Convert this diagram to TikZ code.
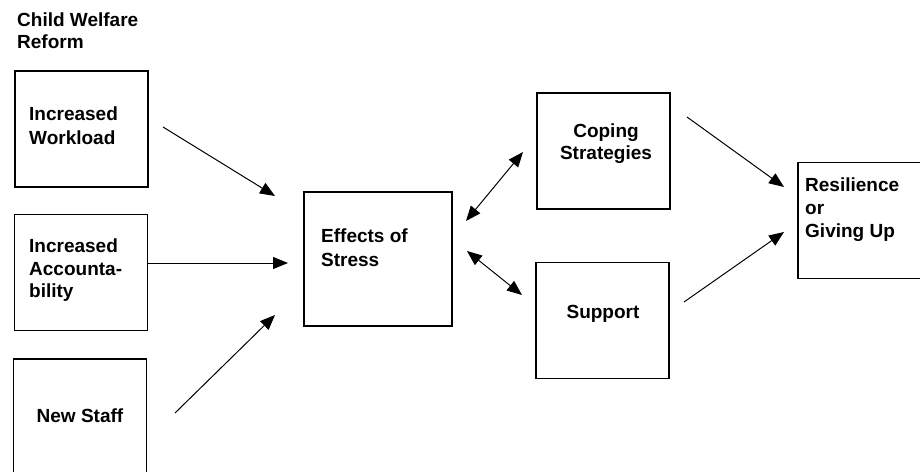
\documentclass[tikz,border=0pt]{standalone}
\usepackage{fontspec}
\setmainfont{Liberation Sans}
\usetikzlibrary{arrows.meta,positioning}
\tikzset{
    box/.style={draw,line width=1.2pt,minimum width=133pt,minimum height=116pt,inner sep=0pt},
    txt/.style={inner sep=0pt,font=\fontsize{19}{23}\selectfont\bfseries,align=left},
    ctxt/.style={txt,align=center},
    arr/.style={line width=1pt,-{Triangle[length=15pt,width=12pt]}},
    darr/.style={line width=1pt,{Triangle[length=15pt,width=12pt]}-{Triangle[length=15pt,width=12pt]}}
}
\newcommand{\myBox}[3]{%
    \node[box] (#3) at (#1,#2) {};
}

\begin{document}
\begin{tikzpicture}[x=1pt,y=-1pt]
    \useasboundingbox (0,0) rectangle (920,471);
    %title
    \node[txt,anchor=north west,font=\fontsize{19}{22}\selectfont\bfseries] (title) at (17,13) {Child Welfare\\Reform};
    %causes
    \myBox{81.5}{129}{work}
    \myBox{81}{272.5}{acct}
    \myBox{80}{417}{staff}
    \node[txt,anchor=north west,font=\fontsize{19}{24}\selectfont\bfseries] (workTxt) at (29,107) {Increased\\Workload};
    \node[txt,anchor=north west,font=\fontsize{19}{22.5}\selectfont\bfseries] (acctTxt) at (29,239) {Increased\\Accounta-\\bility};
    \node[ctxt,anchor=north] (staffTxt) at (80,409) {New Staff};
    %stress
    \node[box,minimum width=148pt,minimum height=134pt] (effects) at (378,259) {};
    \node[txt,anchor=north west,font=\fontsize{19}{24}\selectfont\bfseries] (effectsTxt) at (321,229) {Effects of\\Stress};
    %coping
    \myBox{603.5}{151}{coping}
    \myBox{602.5}{320.5}{support}
    \node[ctxt,anchor=north,font=\fontsize{19}{22}\selectfont\bfseries] (copingTxt) at (606,124) {Coping\\Strategies};
    \node[ctxt,anchor=north] (supportTxt) at (603,305) {Support};
    %outcome
    \myBox{864.5}{220.5}{resil}
    \node[txt,anchor=north west] (resilTxt) at (805,178) {Resilience\\or\\Giving Up};
    %arrow ends
    \coordinate (w1) at (163,127);   \coordinate (w2) at (275,196);
    \coordinate (a1) at (148,263);   \coordinate (a2) at (288,263);
    \coordinate (s1) at (175,413);   \coordinate (s2) at (275,315);
    \coordinate (c1) at (466,221);   \coordinate (c2) at (523,152);
    \coordinate (p1) at (467,251);   \coordinate (p2) at (522,295);
    \coordinate (r1) at (687,117);   \coordinate (r2) at (784,187);
    \coordinate (q1) at (684,302);   \coordinate (q2) at (784,232);
    %arrows
    \draw[arr] (w1) -- (w2);
    \draw[arr] (a1) -- (a2);
    \draw[arr] (s1) -- (s2);
    \draw[darr] (c1) -- (c2);
    \draw[darr] (p1) -- (p2);
    \draw[arr] (r1) -- (r2);
    \draw[arr] (q1) -- (q2);
\end{tikzpicture}
\end{document}
